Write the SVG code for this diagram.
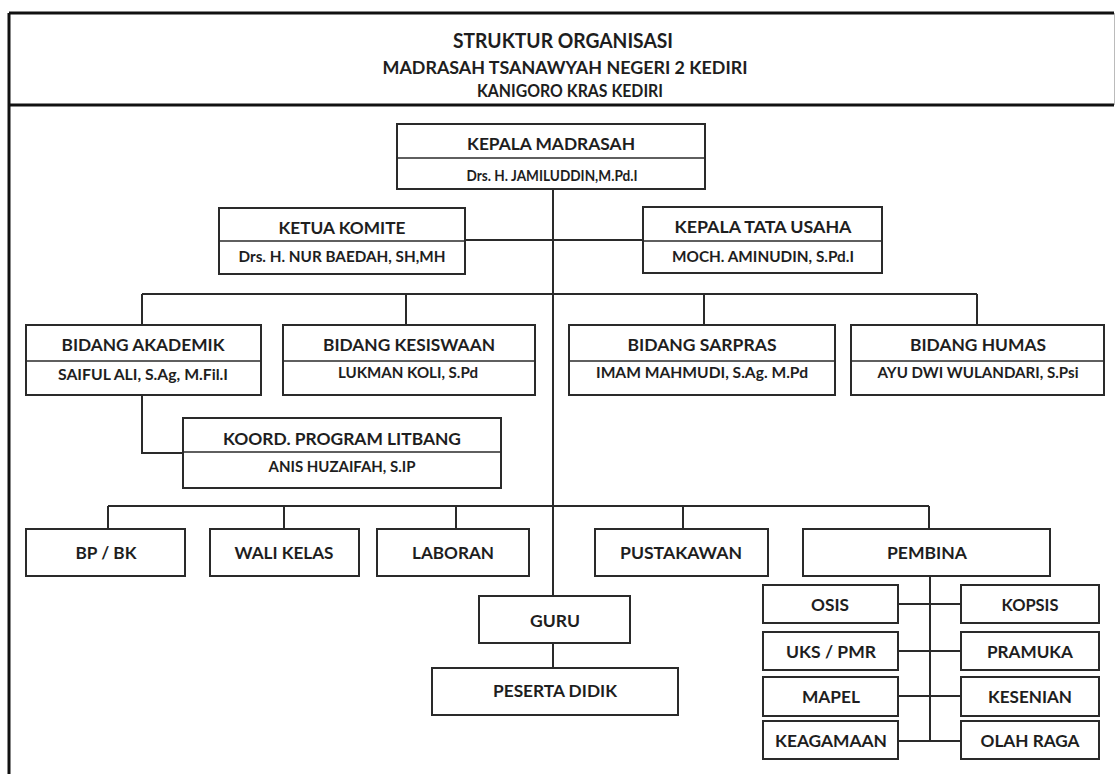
<svg xmlns="http://www.w3.org/2000/svg" width="1116" height="774" viewBox="0 0 1116 774">
<style>
.bg{fill:#fff}
.frame{stroke:#111;stroke-width:3;fill:none}
.box{fill:#fff;stroke:#2a2a2a;stroke-width:2}
.div{stroke:#2a2a2a;stroke-width:1.6}
.ln{stroke:#2a2a2a;stroke-width:2;fill:none}
text{font-family:Lato,"Open Sans","Liberation Sans",sans-serif;font-weight:700;fill:#1e1e1e;text-anchor:middle}
.t1{font-size:20px}
.t2{font-size:16.5px}
.h{font-size:17px}
.n{font-size:14.5px}
.s{font-size:17px}
</style>
<rect class="bg" x="0" y="0" width="1116" height="774"/>
<g id="frame">
<path class="frame" d="M9 13 H1114 M9 13 V774 M9 105 H1114"/>
<path d="M1114.5 13 V105" stroke="#bbb" stroke-width="1"/>
</g>
<g id="header">
<text class="t1" x="563" y="48" textLength="220" lengthAdjust="spacingAndGlyphs">STRUKTUR ORGANISASI</text>
<text class="t2" x="565" y="74" textLength="365" lengthAdjust="spacingAndGlyphs">MADRASAH TSANAWYAH NEGERI 2 KEDIRI</text>
<text class="t2" x="570" y="97" textLength="186" lengthAdjust="spacingAndGlyphs">KANIGORO KRAS KEDIRI</text>
</g>
<g id="connectors">
<path class="ln" d="M553 189 V596 M553 643 V668"/>
<path class="ln" d="M465 240 H643"/>
<path class="ln" d="M142 294 H977 M142 294 V325 M406 294 V325 M704 294 V325 M977 294 V325"/>
<path class="ln" d="M142 395 V453 H183"/>
<path class="ln" d="M108 506 H929 M108 506 V529 M284 506 V529 M456 506 V529 M683 506 V529 M929 506 V529"/>
<path class="ln" d="M930 576 V741 M898 604 H961 M898 651 H961 M898 696 H961 M898 741 H961"/>
</g>
<g id="kepala-madrasah">
<rect class="box" x="397" y="124" width="308" height="65"/>
<line class="div" x1="397" y1="158" x2="705" y2="158"/>
<text class="h" x="551" y="150" textLength="168" lengthAdjust="spacingAndGlyphs">KEPALA MADRASAH</text>
<text class="n" x="552" y="181" textLength="171" lengthAdjust="spacingAndGlyphs">Drs. H. JAMILUDDIN,M.Pd.I</text>
</g>
<g id="ketua-komite">
<rect class="box" x="219" y="208" width="246" height="66"/>
<line class="div" x1="219" y1="241" x2="465" y2="241"/>
<text class="h" x="342" y="234" textLength="127" lengthAdjust="spacingAndGlyphs">KETUA KOMITE</text>
<text class="n" x="342" y="262" textLength="207" lengthAdjust="spacingAndGlyphs">Drs. H. NUR BAEDAH, SH,MH</text>
</g>
<g id="kepala-tata-usaha">
<rect class="box" x="643" y="207" width="239" height="66"/>
<line class="div" x1="643" y1="241" x2="882" y2="241"/>
<text class="h" x="763" y="233" textLength="177" lengthAdjust="spacingAndGlyphs">KEPALA TATA USAHA</text>
<text class="n" x="763" y="262" textLength="182" lengthAdjust="spacingAndGlyphs">MOCH. AMINUDIN, S.Pd.I</text>
</g>
<g id="bidang-akademik">
<rect class="box" x="26" y="325" width="235" height="70"/>
<line class="div" x1="26" y1="361" x2="261" y2="361"/>
<text class="h" x="143" y="351" textLength="163" lengthAdjust="spacingAndGlyphs">BIDANG AKADEMIK</text>
<text class="n" x="143" y="380" textLength="170" lengthAdjust="spacingAndGlyphs">SAIFUL ALI, S.Ag, M.Fil.I</text>
</g>
<g id="bidang-kesiswaan">
<rect class="box" x="283" y="325" width="252" height="70"/>
<line class="div" x1="283" y1="361" x2="535" y2="361"/>
<text class="h" x="409" y="351" textLength="172" lengthAdjust="spacingAndGlyphs">BIDANG KESISWAAN</text>
<text class="n" x="408" y="378" textLength="140" lengthAdjust="spacingAndGlyphs">LUKMAN KOLI, S.Pd</text>
</g>
<g id="bidang-sarpras">
<rect class="box" x="569" y="325" width="266" height="70"/>
<line class="div" x1="569" y1="361" x2="835" y2="361"/>
<text class="h" x="702" y="351" textLength="149" lengthAdjust="spacingAndGlyphs">BIDANG SARPRAS</text>
<text class="n" x="702" y="378" textLength="212" lengthAdjust="spacingAndGlyphs">IMAM MAHMUDI, S.Ag. M.Pd</text>
</g>
<g id="bidang-humas">
<rect class="box" x="851" y="325" width="253" height="70"/>
<line class="div" x1="851" y1="361" x2="1104" y2="361"/>
<text class="h" x="978" y="351" textLength="136" lengthAdjust="spacingAndGlyphs">BIDANG HUMAS</text>
<text class="n" x="978" y="378" textLength="201" lengthAdjust="spacingAndGlyphs">AYU DWI WULANDARI, S.Psi</text>
</g>
<g id="koord-litbang">
<rect class="box" x="183" y="418" width="318" height="70"/>
<line class="div" x1="183" y1="452" x2="501" y2="452"/>
<text class="h" x="342" y="445" textLength="238" lengthAdjust="spacingAndGlyphs">KOORD. PROGRAM LITBANG</text>
<text class="n" x="342" y="472" textLength="147" lengthAdjust="spacingAndGlyphs">ANIS HUZAIFAH, S.IP</text>
</g>
<g id="bp-bk">
<rect class="box" x="26" y="529" width="159" height="47"/>
<text class="s" x="106" y="559" textLength="61" lengthAdjust="spacingAndGlyphs">BP / BK</text>
</g>
<g id="wali-kelas">
<rect class="box" x="210" y="529" width="149" height="47"/>
<text class="s" x="284" y="559" textLength="99" lengthAdjust="spacingAndGlyphs">WALI KELAS</text>
</g>
<g id="laboran">
<rect class="box" x="377" y="529" width="152" height="47"/>
<text class="s" x="453" y="559" textLength="82" lengthAdjust="spacingAndGlyphs">LABORAN</text>
</g>
<g id="pustakawan">
<rect class="box" x="595" y="529" width="173" height="47"/>
<text class="s" x="681" y="559" textLength="122" lengthAdjust="spacingAndGlyphs">PUSTAKAWAN</text>
</g>
<g id="pembina">
<rect class="box" x="803" y="529" width="247" height="47"/>
<text class="s" x="927" y="559" textLength="80" lengthAdjust="spacingAndGlyphs">PEMBINA</text>
</g>
<g id="guru">
<rect class="box" x="479" y="596" width="151" height="47"/>
<text class="s" x="555" y="627" textLength="50" lengthAdjust="spacingAndGlyphs">GURU</text>
</g>
<g id="peserta-didik">
<rect class="box" x="432" y="668" width="246" height="47"/>
<text class="s" x="555" y="697" textLength="124" lengthAdjust="spacingAndGlyphs">PESERTA DIDIK</text>
</g>
<g id="osis">
<rect class="box" x="763" y="585" width="135" height="38"/>
<text class="s" x="830" y="611" textLength="38" lengthAdjust="spacingAndGlyphs">OSIS</text>
</g>
<g id="uks-pmr">
<rect class="box" x="763" y="632" width="135" height="38"/>
<text class="s" x="831" y="658" textLength="90" lengthAdjust="spacingAndGlyphs">UKS / PMR</text>
</g>
<g id="mapel">
<rect class="box" x="763" y="677" width="135" height="39"/>
<text class="s" x="831" y="703" textLength="58" lengthAdjust="spacingAndGlyphs">MAPEL</text>
</g>
<g id="keagamaan">
<rect class="box" x="763" y="721" width="135" height="38"/>
<text class="s" x="831" y="747" textLength="112" lengthAdjust="spacingAndGlyphs">KEAGAMAAN</text>
</g>
<g id="kopsis">
<rect class="box" x="961" y="585" width="138" height="38"/>
<text class="s" x="1030" y="611" textLength="57" lengthAdjust="spacingAndGlyphs">KOPSIS</text>
</g>
<g id="pramuka">
<rect class="box" x="961" y="632" width="138" height="38"/>
<text class="s" x="1030" y="658" textLength="86" lengthAdjust="spacingAndGlyphs">PRAMUKA</text>
</g>
<g id="kesenian">
<rect class="box" x="961" y="677" width="138" height="39"/>
<text class="s" x="1030" y="703" textLength="84" lengthAdjust="spacingAndGlyphs">KESENIAN</text>
</g>
<g id="olah-raga">
<rect class="box" x="961" y="721" width="138" height="38"/>
<text class="s" x="1030" y="747" textLength="99" lengthAdjust="spacingAndGlyphs">OLAH RAGA</text>
</g>
</svg>
